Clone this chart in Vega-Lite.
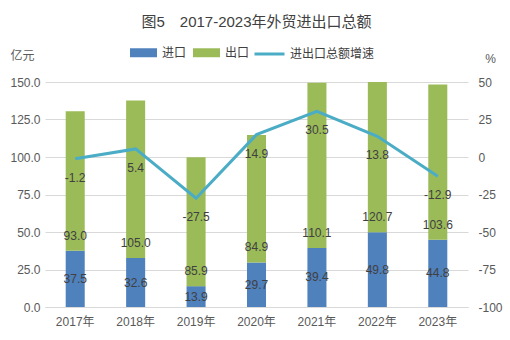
{
  "$schema": "https://vega.github.io/schema/vega-lite/v6.json",
  "width": 423,
  "height": 225,
  "autosize": {"type": "none"},
  "padding": {"left": 45, "top": 82, "right": 42, "bottom": 33},
  "background": "white",
  "config": {
    "font": "Liberation Sans, Noto Sans CJK SC",
    "locale": {"number": {"decimal": ".", "thousands": ",", "grouping": [3], "currency": ["", ""], "minus": "-"}},
    "view": {"stroke": null},
    "axis": {"labelFontSize": 12, "labelColor": "#595959", "titleFontWeight": "normal", "titleFontSize": 12, "titleColor": "#595959", "ticks": false, "domain": false, "grid": false}
  },
  "title": {"text": "图5　2017-2023年外贸进出口总额", "fontSize": 15, "fontWeight": "normal", "color": "#404040", "anchor": "middle", "frame": "group", "offset": 8},
  "data": {"values": [
    {"年份": "2017年", "进口": 37.5, "出口": 93.0, "增速": -1.2},
    {"年份": "2018年", "进口": 32.6, "出口": 105.0, "增速": 5.4},
    {"年份": "2019年", "进口": 13.9, "出口": 85.9, "增速": -27.5},
    {"年份": "2020年", "进口": 29.7, "出口": 84.9, "增速": 14.9},
    {"年份": "2021年", "进口": 39.4, "出口": 110.1, "增速": 30.5},
    {"年份": "2022年", "进口": 49.8, "出口": 120.7, "增速": 13.8},
    {"年份": "2023年", "进口": 44.8, "出口": 103.6, "增速": -12.9}
  ]},
  "encoding": {
    "x": {"field": "年份", "type": "ordinal", "sort": null, "scale": {"paddingInner": 0.685, "paddingOuter": 0.3425},
      "axis": {"title": null, "labelAngle": 0, "labelPadding": 9, "domain": true, "domainColor": "#D9D9D9", "ticks": false}}
  },
  "layer": [
    {
      "transform": [{"fold": ["进口", "出口"], "as": ["类型", "值"]}],
      "mark": {"type": "bar", "clip": true},
      "encoding": {
        "y": {"field": "值", "type": "quantitative", "stack": "zero", "scale": {"domain": [0, 150], "nice": false},
          "axis": {"orient": "left", "values": [0, 25, 50, 75, 100, 125, 150], "format": ".1f", "grid": true, "gridColor": "#D9D9D9", "labelPadding": 5,
            "title": "亿元", "titleAngle": 0, "titleX": -35, "titleY": -27, "titleAlign": "left", "titleBaseline": "middle"}},
        "fill": {"field": "类型", "type": "nominal", "scale": {"domain": ["进口", "出口"], "range": ["#4F81BD", "#9BBB59"]},
          "legend": {"orient": "none", "legendX": 85, "legendY": -43, "direction": "horizontal", "title": null,
            "symbolType": "M-1,-0.333H1V0.333H-1Z", "symbolSize": 729, "symbolStrokeWidth": 0, "labelFontSize": 12, "labelColor": "#404040", "labelOffset": 5, "columnPadding": 6}},
        "order": {"field": "类型", "sort": "descending"}
      }
    },
    {
      "mark": {"type": "text", "dy": -15, "fontSize": 12, "color": "#404040"},
      "encoding": {
        "y": {"field": "进口", "type": "quantitative", "scale": {"domain": [0, 150], "nice": false}, "axis": null},
        "text": {"field": "出口", "type": "quantitative", "format": ".1f"}
      }
    },
    {
      "mark": {"type": "text", "fontSize": 12, "color": "#404040"},
      "encoding": {
        "y": {"field": "进口", "type": "quantitative", "scale": {"domain": [0, 300], "nice": false}, "axis": null},
        "text": {"field": "进口", "type": "quantitative", "format": ".1f"}
      }
    },
    {
      "mark": {"type": "line", "strokeWidth": 3},
      "encoding": {
        "y": {"field": "增速", "type": "quantitative", "scale": {"domain": [-100, 50], "nice": false},
          "axis": {"orient": "right", "values": [-100, -75, -50, -25, 0, 25, 50], "format": "d", "labelPadding": 10,
            "title": "%", "titleAngle": 0, "titleX": 22, "titleY": -24, "titleAlign": "center", "titleBaseline": "middle"}},
        "stroke": {"datum": "进出口总额增速", "type": "nominal", "scale": {"range": ["#4BACC6"]},
          "legend": {"orient": "none", "legendX": 208, "legendY": -44.5, "title": null, "symbolType": "stroke", "symbolSize": 900, "symbolStrokeWidth": 3, "labelFontSize": 12, "labelColor": "#404040", "labelOffset": 4}}
      }
    },
    {
      "mark": {"type": "text", "dy": 19, "fontSize": 12, "color": "#404040"},
      "encoding": {
        "y": {"field": "增速", "type": "quantitative", "scale": {"domain": [-100, 50], "nice": false}, "axis": null},
        "text": {"field": "增速", "type": "quantitative", "format": ".1f"}
      }
    }
  ],
  "resolve": {"scale": {"y": "independent"}}
}
